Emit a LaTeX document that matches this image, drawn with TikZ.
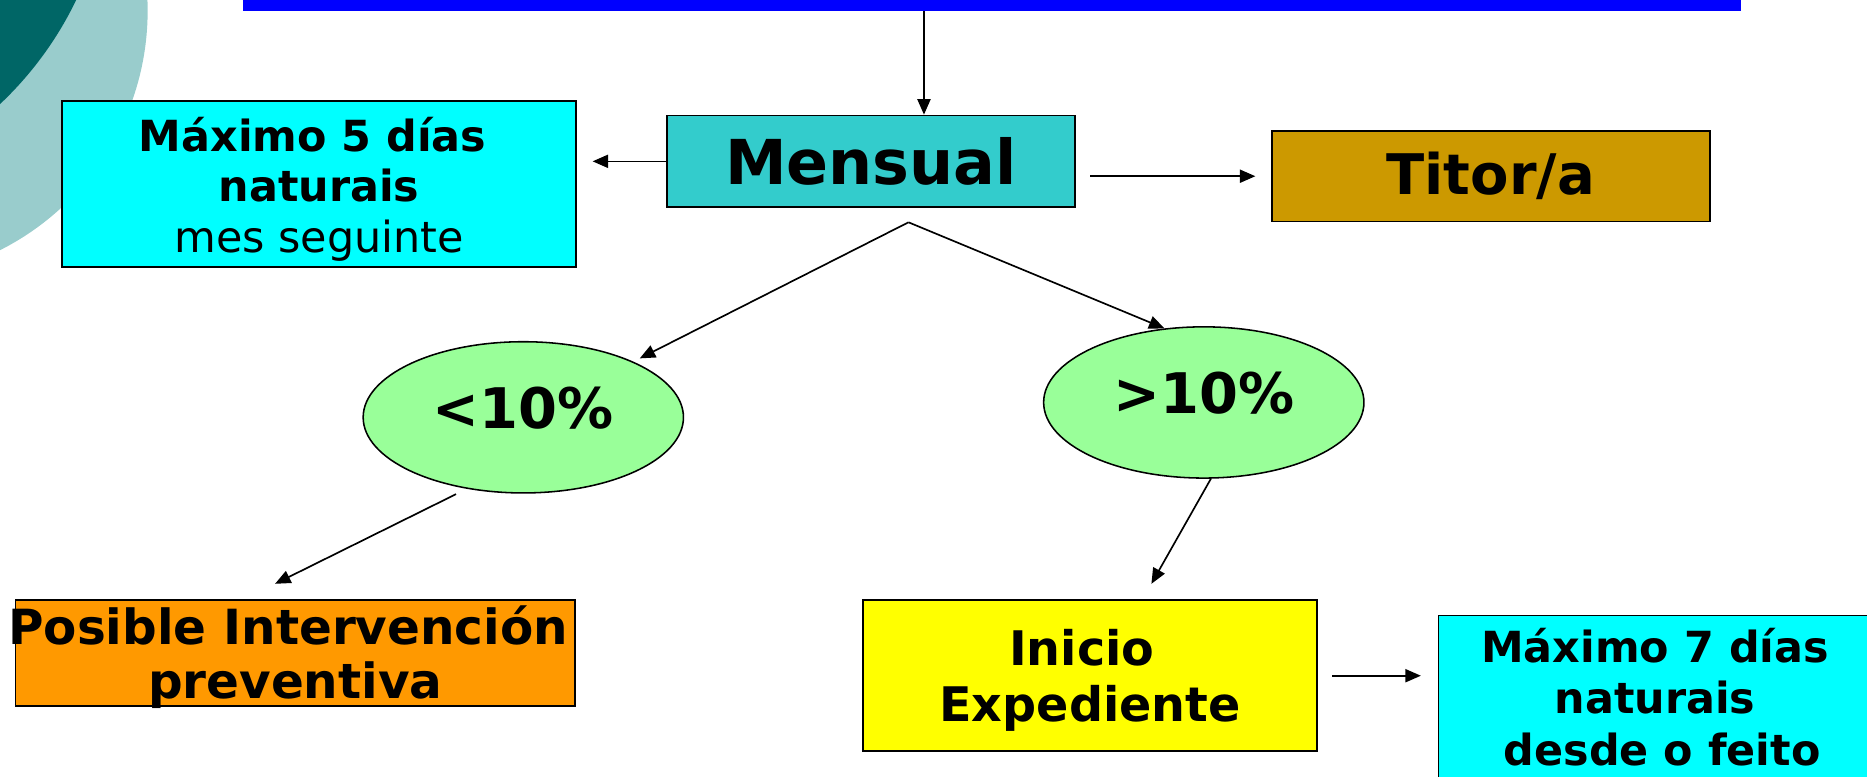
\documentclass[tikz,border=0pt]{standalone}
\usepackage{fontspec}
\setmainfont{DejaVu Sans}
\usetikzlibrary{shapes.geometric,arrows.meta,calc}
\definecolor{darkteal}{HTML}{006666}
\definecolor{lightteal}{HTML}{99CCCC}
\definecolor{menscol}{HTML}{33CCCC}
\definecolor{cyanbox}{HTML}{00FFFF}
\definecolor{titorcol}{HTML}{CC9900}
\definecolor{ellcol}{HTML}{99FF99}
\definecolor{orangecol}{HTML}{FF9900}
\definecolor{yellowcol}{HTML}{FFFF00}
\definecolor{barblue}{HTML}{0000FF}
\begin{document}
\begin{tikzpicture}[x=1pt,y=-1pt,
  box/.style={draw=black, line width=1.4pt, rectangle, inner sep=0pt, align=center},
  oval/.style={draw=black, line width=1.3pt, ellipse, inner sep=0pt, fill=ellcol,
    minimum width=269pt, minimum height=127pt,
    font=\bfseries\fontsize{47}{56}\selectfont, text height=34pt, text depth=16pt},
  arr/.style={line width=1.4pt, -{Triangle[length=13pt,width=11pt]}}]
\useasboundingbox (0,0) rectangle (1568,652);
% background circles
\fill[lightteal] (-101,9) circle[radius=225];
\fill[darkteal] (-203,-128) circle[radius=296];
% top bar
\node[fill=barblue, inner sep=0pt, minimum width=1258pt, minimum height=9pt, anchor=north west] (bar) at (204,0) {};
% nodes
\node[box, fill=menscol, minimum width=343pt, minimum height=77pt,
  font=\bfseries\fontsize{52}{62}\selectfont] (mensual) at (731.5,135.5) {Mensual};
\node[box, fill=cyanbox, minimum width=432pt, minimum height=139pt,
  font=\fontsize{36}{42.5}\selectfont, text height=124pt, text depth=9pt] (max5) at (268,154.5)
  {\kern-11pt\textbf{Máximo 5 días}\\\textbf{naturais}\\mes seguinte};
\node[box, fill=titorcol, minimum width=368pt, minimum height=76pt,
  font=\bfseries\fontsize{47}{56}\selectfont] (titor) at (1252,148) {Titor/a};
\node[oval] (lt) at (439.5,350.5) {<10\%};
\node[oval] (gt) at (1011,338) {>10\%};
\node[box, fill=orangecol, minimum width=470pt, minimum height=89pt,
  font=\bfseries\fontsize{40.7}{45.5}\selectfont, text height=83pt, text depth=6pt] (prev) at (248,548.5)
  {\kern-12pt Posible Intervención\\preventiva};
\node[box, fill=yellowcol, minimum width=381pt, minimum height=127pt,
  font=\bfseries\fontsize{40}{47.5}\selectfont, text height=87pt, text depth=10pt] (exp) at (915.5,567.5)
  {\kern-14pt Inicio\\Expediente};
\node[box, fill=cyanbox, minimum width=364pt, minimum height=146pt,
  font=\bfseries\fontsize{36}{43}\selectfont, text height=106pt, text depth=1pt] (max7) at (1390,590)
  {Máximo 7 días\\naturais\\desde o feito\kern-12pt};
% connectors
\coordinate (vt) at ($(mensual.north)+(44.5,0)$);
\draw[arr] (bar.south -| vt) -- (vt);
\draw[arr, shorten >=13pt] (mensual.west) -- (max5.east |- mensual.west);
\draw[arr, shorten <=12pt, shorten >=13pt] (mensual.east |- titor.west) -- (titor.west);
\coordinate (apex) at ($(mensual.south)+(31.5,12)$);
\draw[arr, shorten >=6pt] (apex) -- (lt);
\draw[arr] (apex) -- (gt.118);
\coordinate (ltout) at ($(lt.center)+(-56.5,64.5)$);
\coordinate (previn) at ($(prev.north)+(-17,-13)$);
\draw[arr] (ltout) -- (previn);
\coordinate (gtout) at ($(gt.center)+(6,64)$);
\coordinate (expin) at ($(exp.north)+(51.5,-13)$);
\draw[arr] (gtout) -- (expin);
\draw[arr, shorten <=12pt, shorten >=14pt] (exp.east) -- (exp.east -| max7.west);
\end{tikzpicture}
\end{document}
